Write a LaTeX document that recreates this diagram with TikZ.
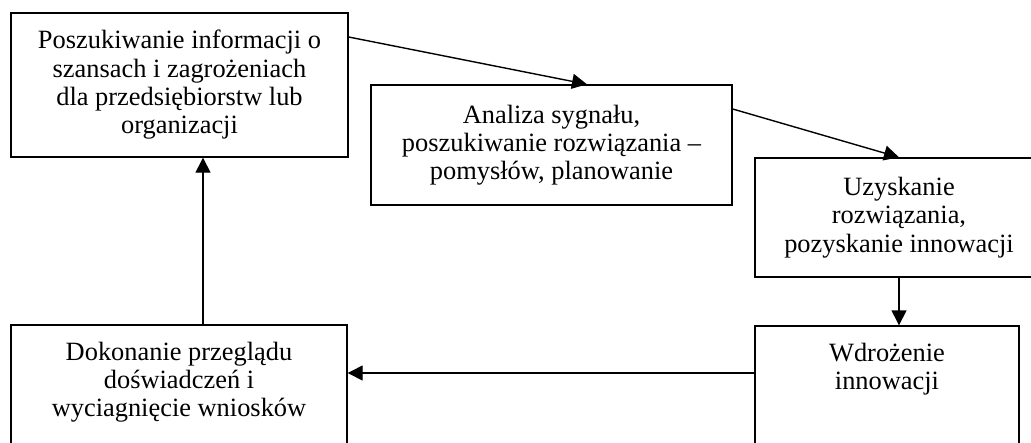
\documentclass[tikz,border=0pt]{standalone}
\usepackage{fontspec}
\setmainfont{Liberation Serif}
\usetikzlibrary{arrows.meta}
\tikzset{
  box/.style={draw, line width=1.4pt, inner sep=0pt, rectangle},
  lbl/.style={align=center, inner sep=0pt, font=\fontsize{26.4}{28.3}\selectfont},
  arr/.style={line width=1.4pt, -{Triangle[length=15pt,width=15pt]}}
}
\begin{document}
\begin{tikzpicture}[x=1pt,y=-1pt]
\useasboundingbox (0,0) rectangle (1031,442);
\fill[white] (0,0) rectangle (1031,442);
\clip (0,0) rectangle (1031,442);
\node[box, lbl, minimum width=337pt, minimum height=144pt] (b1) at (179.5,85)
  {Poszukiwanie informacji o\\szansach i zagrożeniach\\dla przedsiębiorstw lub\\organizacji};
\node[box, lbl, minimum width=361pt, minimum height=120pt] (b2) at (551.5,145)
  {Analiza sygnału,\\poszukiwanie rozwiązania –\\pomysłów, planowanie};
\node[box, lbl, minimum width=288pt, minimum height=119pt] (b3) at (899,217.5)
  {Uzyskanie\\rozwiązania,\\pozyskanie innowacji};
\node[box, minimum width=264pt, minimum height=144pt] (b4) at (887,398) {};
\node[lbl] (t4) at (887,369) {Wdrożenie\\innowacji};
\node[box, minimum width=336pt, minimum height=145pt] (b5) at (179,397.5) {};
\node[lbl] (t5) at (179,382) {Dokonanie przeglądu\\doświadczeń i\\wyciagnięcie wniosków};
\draw[arr] (b1.east |- 0,37) -- (b2.north -| 587,0);
\draw[arr] (b2.east |- 0,109) -- (b3.north);
\draw[arr] (b3.south) -- (b3.south |- b4.north);
\draw[arr] (b4.west |- 0,373) -- (b5.east |- 0,373);
\draw[arr] (b5.north -| 203,0) -- (b1.south -| 203,0);
\end{tikzpicture}
\end{document}
